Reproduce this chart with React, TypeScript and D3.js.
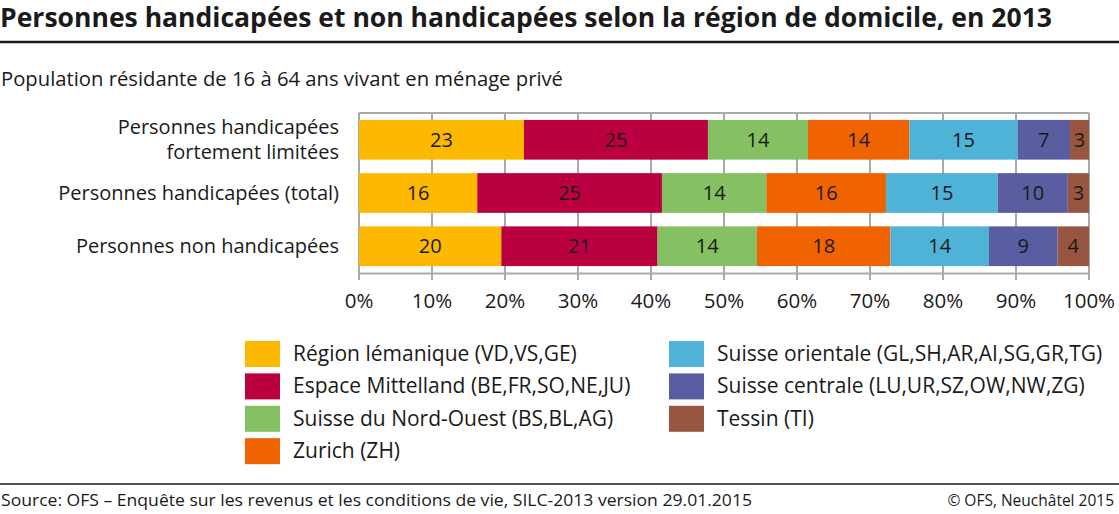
import React from "react";
import * as d3 from "d3";

const title = "Personnes handicapées et non handicapées selon la région de domicile, en 2013";
const subtitle = "Population résidante de 16 à 64 ans vivant en ménage privé";
const source = "Source: OFS – Enquête sur les revenus et les conditions de vie, SILC-2013 version 29.01.2015";
const copyright = "© OFS, Neuchâtel 2015";

const categories = [
  ["Personnes handicapées", "fortement limitées"],
  ["Personnes handicapées (total)"],
  ["Personnes non handicapées"],
];

const regions = [
  "Région lémanique (VD,VS,GE)",
  "Espace Mittelland (BE,FR,SO,NE,JU)",
  "Suisse du Nord-Ouest (BS,BL,AG)",
  "Zurich (ZH)",
  "Suisse orientale (GL,SH,AR,AI,SG,GR,TG)",
  "Suisse centrale (LU,UR,SZ,OW,NW,ZG)",
  "Tessin (TI)",
];

const colors = ["#FDB800", "#BA0041", "#85C062", "#EF6300", "#4FB2D7", "#5A5EA1", "#98553F"];

// values per category (exact shares), and displayed labels
const valuesFortement = [22.6, 25.2, 13.7, 13.9, 14.8, 7.2, 2.6];
const valuesTotal = [16.2, 25.3, 14.3, 16.4, 15.3, 9.6, 2.9];
const valuesNon = [19.5, 21.4, 13.6, 18.3, 13.5, 9.4, 4.3];
const labelsFortement = [23, 25, 14, 14, 15, 7, 3];
const labelsTotal = [16, 25, 14, 16, 15, 10, 3];
const labelsNon = [20, 21, 14, 18, 14, 9, 4];

const xTicks = [0, 10, 20, 30, 40, 50, 60, 70, 80, 90, 100];

const W = 1119;
const H = 514;
const FONT = "'Open Sans', 'Noto Sans', sans-serif";
const GRID = "#A9A9A9";
const INK = "#1a1a1a";

export default function App() {
  const series = [valuesFortement, valuesTotal, valuesNon];
  const labels = [labelsFortement, labelsTotal, labelsNon];
  const x = d3.scaleLinear().domain([0, 100]).range([359, 1089]);
  const y = d3
    .scaleBand<number>()
    .domain([0, 1, 2])
    .range([113, 273])
    .paddingInner(0.254)
    .paddingOuter(0.13);

  const rows = series.map((vals, i) => {
    const stack = d3.cumsum(vals);
    const total = stack[stack.length - 1];
    return vals.map((v, j) => {
      const x0 = ((stack[j] - v) / total) * 100;
      const x1 = (stack[j] / total) * 100;
      return { x0, x1, color: colors[j], label: labels[i][j] };
    });
  });

  const legendCols = [regions.slice(0, 4), regions.slice(4)];

  return (
    <svg
      width={W}
      height={H}
      style={{ position: "absolute", left: 0, top: 0, background: "#fff" }}
      fontFamily={FONT}
    >
      <rect width={W} height={H} fill="#fff" />
      <text x={0} y={27} fontSize={26} fontWeight={700} fill={INK} textLength={1052} lengthAdjust="spacingAndGlyphs">
        {title}
      </text>
      <line x1={0} x2={W} y1={42} y2={42} stroke={INK} strokeWidth={2.5} />
      <text x={1} y={86} fontSize={19.5} fill={INK} textLength={562} lengthAdjust="spacingAndGlyphs">
        {subtitle}
      </text>

      {/* grid and frame */}
      {xTicks.map((t) => (
        <line key={t} x1={x(t)} x2={x(t)} y1={113} y2={280} stroke={GRID} strokeWidth={2} />
      ))}
      <line x1={x(0)} x2={x(100)} y1={113} y2={113} stroke={GRID} strokeWidth={2} />
      <line x1={x(0)} x2={x(100)} y1={273.5} y2={273.5} stroke={GRID} strokeWidth={2} />

      {/* bars */}
      {rows.map((segs, i) =>
        segs.map((s, j) => (
          <g key={`${i}-${j}`}>
            <rect
              x={x(s.x0)}
              y={y(i)}
              width={x(s.x1) - x(s.x0)}
              height={y.bandwidth()}
              fill={s.color}
            />
            <text
              x={(x(s.x0) + x(s.x1)) / 2}
              y={(y(i) as number) + y.bandwidth() / 2 + 7}
              textAnchor="middle"
              fontSize={20}
              fill={INK}
            >
              {s.label}
            </text>
          </g>
        ))
      )}

      {/* category labels */}
      {categories.map((lines, i) => {
        const cy = (y(i) as number) + y.bandwidth() / 2;
        const lh = 25;
        const start = cy - ((lines.length - 1) * lh) / 2 + 7;
        return lines.map((l, k) => (
          <text key={`${i}-${k}`} x={339} y={start + k * lh} textAnchor="end" fontSize={20} fill={INK}>
            {l}
          </text>
        ));
      })}

      {/* tick labels */}
      {xTicks.map((t) => (
        <text key={t} x={x(t)} y={308} textAnchor="middle" fontSize={20.5} fill={INK}>
          {`${t}%`}
        </text>
      ))}

      {/* legend */}
      {legendCols.map((col, c) =>
        col.map((name, k) => {
          const idx = c * 4 + k;
          const sx = c === 0 ? 245 : 669;
          const sy = 341 + k * 32.4;
          return (
            <g key={name}>
              <rect x={sx} y={sy} width={35} height={26} fill={colors[idx]} />
              <text x={sx + 48} y={sy + 20} fontSize={21} fill={INK}>
                {name}
              </text>
            </g>
          );
        })
      )}

      <line x1={0} x2={W} y1={484} y2={484} stroke={INK} strokeWidth={1.5} />
      <text x={1} y={506} fontSize={17} fill={INK} textLength={751} lengthAdjust="spacingAndGlyphs">
        {source}
      </text>
      <text x={1114} y={506} fontSize={15.5} textAnchor="end" fill={INK}>
        {copyright}
      </text>
    </svg>
  );
}
